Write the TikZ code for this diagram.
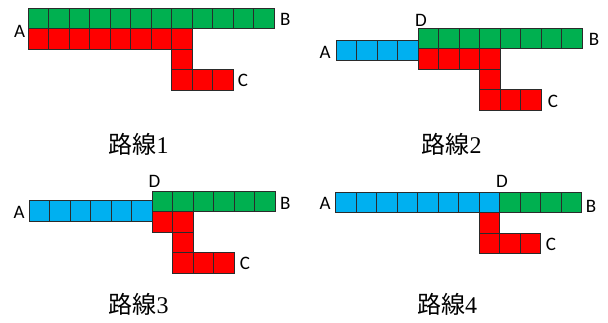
\documentclass[tikz,border=0pt]{standalone}
\usepackage{fontspec}
\setmainfont{Liberation Serif}
\newfontfamily\cjk{Noto Sans CJK JP}
\newfontfamily\letterfont{Carlito}
\definecolor{cgreen}{HTML}{00B050}
\definecolor{cred}{HTML}{FF0000}
\definecolor{cblue}{HTML}{00B0F0}
\definecolor{cedge}{HTML}{2B2B2B}
\tikzset{
  cell/.style={draw=cedge, line width=0.9pt},
  pt/.style={font=\letterfont\fontsize{19}{19}\selectfont, inner sep=0pt},
  caption/.style={font=\fontsize{24}{24}\selectfont, inner sep=0pt}
}
% a horizontal run of square cells: colour, left x, top y, count
\newcommand\cellrun[4]{%
  \foreach \k in {1,...,#4}{%
    \filldraw[cell, fill=#1] ({#2+(\k-1)*20.5},#3) rectangle ++(20.5,20.5);
  }%
}
\begin{document}
\begin{tikzpicture}[x=1pt, y=-1pt]
\useasboundingbox (0,0) rectangle (608,323);

% route 1
\cellrun{cgreen}{28.3}{8.3}{12}
\cellrun{cred}{28.3}{28.8}{8}
\cellrun{cred}{171.8}{49.3}{1}
\cellrun{cred}{171.8}{69.8}{3}
\node[pt] (a1) at (19.5,31.2) {A};
\node[pt] (b1) at (285.3,19.3) {B};
\node[pt] (c1) at (243,80) {C};
\node[caption] (r1) at (138.5,144.3) {{\cjk 路線}1};

% route 2
\cellrun{cblue}{336}{40}{4}
\cellrun{cgreen}{418}{28.3}{8}
\cellrun{cred}{418}{48.8}{4}
\cellrun{cred}{479.5}{69.3}{1}
\cellrun{cred}{479.5}{89.8}{3}
\node[pt] (a2) at (325,52) {A};
\node[pt] (b2) at (594,39) {B};
\node[pt] (c2) at (553,101) {C};
\node[pt] (d2) at (421,20.8) {D};
\node[caption] (r2) at (451.7,144.3) {{\cjk 路線}2};

% route 3
\cellrun{cblue}{29.3}{200.7}{6}
\cellrun{cgreen}{152.3}{191}{6}
\cellrun{cred}{152.3}{211.5}{2}
\cellrun{cred}{172.8}{232}{1}
\cellrun{cred}{172.8}{252.5}{3}
\node[pt] (a3) at (19,212.5) {A};
\node[pt] (b3) at (285.3,203.3) {B};
\node[pt] (c3) at (245,263) {C};
\node[pt] (d3) at (154.5,181.7) {D};
\node[caption] (r3) at (138.7,304.7) {{\cjk 路線}3};

% route 4
\cellrun{cblue}{335.7}{192.3}{8}
\cellrun{cgreen}{499.7}{192.3}{4}
\cellrun{cred}{479.2}{212.8}{1}
\cellrun{cred}{479.2}{233.3}{3}
\node[pt] (a4) at (325,203.7) {A};
\node[pt] (b4) at (591,206) {B};
\node[pt] (c4) at (551,244.5) {C};
\node[pt] (d4) at (502,181.7) {D};
\node[caption] (r4) at (447,304.7) {{\cjk 路線}4};
\end{tikzpicture}
\end{document}
